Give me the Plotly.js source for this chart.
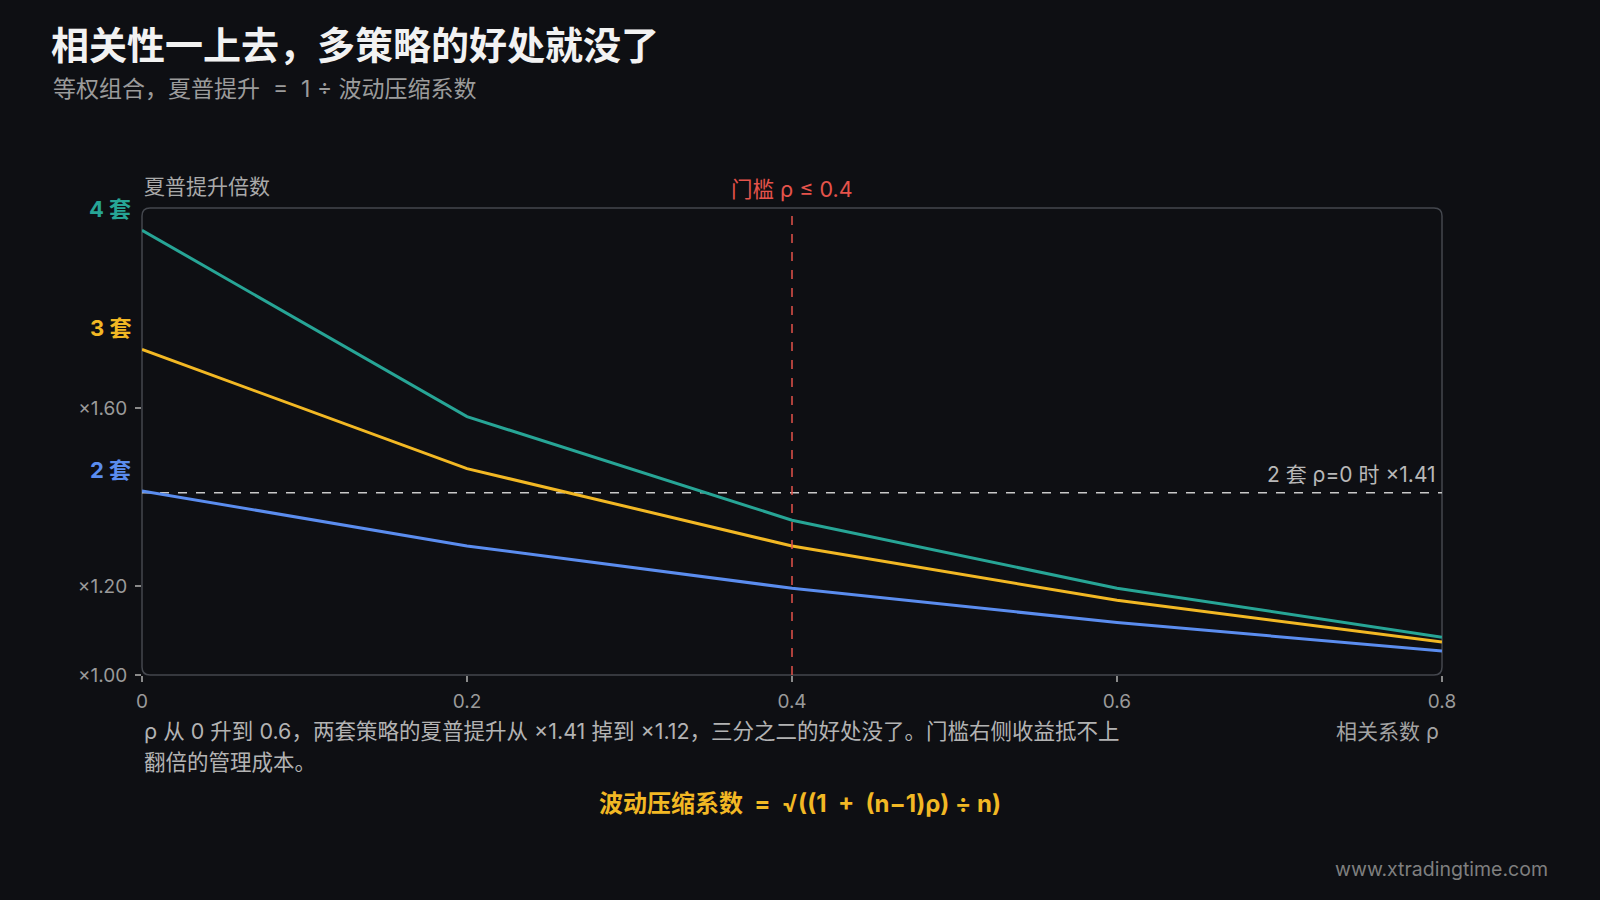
<!DOCTYPE html>
<html>
<head>
<meta charset="utf-8">
<script src="https://cdn.plot.ly/plotly-3.0.1.min.js"></script>
<style>
  html, body { margin: 0; padding: 0; background: #0e0f13; }
  #myDiv { width: 1600px; height: 900px; }
</style>
</head>
<body>
<div id="myDiv"></div>
<script>
// correlation values on the x axis
var rho = [0, 0.2, 0.4, 0.6, 0.8];
// sharpe multiplier for 2, 3 and 4 strategies
var sharpe2 = [1.414, 1.29, 1.195, 1.118, 1.054];
var sharpe3 = [1.732, 1.464, 1.29, 1.168, 1.074];
var sharpe4 = [2.0, 1.581, 1.348, 1.195, 1.085];
var seriesNames = ['2 套', '3 套', '4 套'];
var xTicks = [0, 0.2, 0.4, 0.6, 0.8];
var xTickText = ['0', '0.2', '0.4', '0.6', '0.8'];
var yTicks = [1.0, 1.2, 1.6];
var yTickText = ['×1.00', '×1.20', '×1.60'];
var threshold = 0.4;
var refValue = 1.41;

var FONT = 'Inter, "Noto Sans CJK SC", sans-serif';
var colors = { two: '#5b8def', three: '#f2b824', four: '#27a596', red: '#e5534b' };

// plot area in pixels
var L = 142, R = 1442, T = 208, B = 675;
function px(x) { return (x - L) / (R - L); }
function py(y) { return (B - y) / (B - T); }

var trace2 = { x: rho, y: sharpe2, type: 'scatter', mode: 'lines', name: seriesNames[0],
  line: { color: colors.two, width: 3 } };
var trace3 = { x: rho, y: sharpe3, type: 'scatter', mode: 'lines', name: seriesNames[1],
  line: { color: colors.three, width: 3 } };
var trace4 = { x: rho, y: sharpe4, type: 'scatter', mode: 'lines', name: seriesNames[2],
  line: { color: colors.four, width: 3 } };

// rounded frame round the plot area
var rx = 8 / (R - L), ry = 8 / (B - T);
var framePath = 'M ' + rx + ',1 L ' + (1 - rx) + ',1 Q 1,1 1,' + (1 - ry) +
  ' L 1,' + ry + ' Q 1,0 ' + (1 - rx) + ',0 L ' + rx + ',0 Q 0,0 0,' + ry +
  ' L 0,' + (1 - ry) + ' Q 0,1 ' + rx + ',1 Z';

function note(text, x, y, anchor, size, color, extra) {
  var a = { text: text, xref: 'paper', yref: 'paper', x: x, y: y, xanchor: anchor, yanchor: 'middle',
    showarrow: false, font: { family: FONT, size: size, color: color } };
  for (var k in extra) a[k] = extra[k];
  return a;
}

var annotations = [
  note('等权组合，夏普提升  =  1 ÷ 波动压缩系数', px(51), py(89), 'left', 23, '#9b9b9b'),
  note('夏普提升倍数', px(142), py(186), 'left', 21, '#a9a9a9'),
  note('<b>' + seriesNames[2] + '</b>', px(133), sharpe4[0], 'right', 22, colors.four, { yref: 'y', yshift: 21 }),
  note('<b>' + seriesNames[1] + '</b>', px(133), sharpe3[0], 'right', 22, colors.three, { yref: 'y', yshift: 21 }),
  note('<b>' + seriesNames[0] + '</b>', px(133), sharpe2[0], 'right', 22, colors.two, { yref: 'y', yshift: 21 }),
  note('门槛 ρ ≤ 0.4', threshold, py(189), 'center', 21.5, colors.red, { xref: 'x' }),
  note('2 套 ρ=0 时 ×1.41', 0.8, refValue, 'right', 21, '#b8b8b8', { xref: 'x', yref: 'y', yshift: 18, xshift: -4 }),
  note('ρ 从 0 升到 0.6，两套策略的夏普提升从 ×1.41 掉到 ×1.12，三分之二的好处没了。门槛右侧收益抵不上',
    px(142), py(731), 'left', 21.5, '#b3b3b3'),
  note('翻倍的管理成本。', px(142), py(762), 'left', 21.5, '#b3b3b3'),
  note('相关系数 ρ', px(1441), py(731), 'right', 21, '#a3a3a3'),
  note('<b>波动压缩系数  =  √((1  +  (n−1)ρ) ÷ n)</b>', px(800), py(803), 'center', 24, colors.three),
  note('www.xtradingtime.com', px(1550), py(869), 'right', 19.5, '#7f7f7f')
];

var layout = {
  width: 1600, height: 900,
  paper_bgcolor: '#0e0f13', plot_bgcolor: 'rgba(0,0,0,0)',
  margin: { l: L, r: 1600 - R, t: T, b: 900 - B },
  showlegend: false,
  font: { family: FONT, color: '#9a9a9a' },
  title: {
    text: '<b>相关性一上去，多策略的好处就没了</b>',
    font: { family: FONT, size: 38, color: '#f2f2f2' },
    xref: 'container', yref: 'container', x: 51 / 1600, y: 1 - 46 / 900,
    xanchor: 'left', yanchor: 'middle'
  },
  xaxis: {
    range: [0, 0.8], tickvals: xTicks, ticktext: xTickText,
    showgrid: false, zeroline: false, showline: false,
    ticks: 'outside', ticklen: 6, tickcolor: '#8a8a8a', tickwidth: 1.5,
    tickfont: { family: FONT, size: 19, color: '#9a9a9a' }, ticklabelstandoff: 3
  },
  yaxis: {
    range: [1.0, 2.05], tickvals: yTicks, ticktext: yTickText,
    showgrid: false, zeroline: false, showline: false,
    ticks: 'outside', ticklen: 6, tickcolor: '#8a8a8a', tickwidth: 1.5,
    tickfont: { family: FONT, size: 19, color: '#9a9a9a' }, ticklabelstandoff: 4
  },
  shapes: [
    { type: 'path', xref: 'paper', yref: 'paper', path: framePath,
      line: { color: '#44474e', width: 1.5 }, layer: 'below' },
    { type: 'line', xref: 'x', yref: 'y', x0: 0, x1: 0.8, y0: refValue, y1: refValue,
      line: { color: '#c9c9c9', width: 1.5, dash: 'dash' }, layer: 'below' },
    { type: 'line', xref: 'x', yref: 'paper', x0: threshold, x1: threshold, y0: 0, y1: 1,
      line: { color: colors.red, width: 1.5, dash: 'dash' }, layer: 'above' }
  ],
  annotations: annotations
};

Plotly.newPlot('myDiv', [trace2, trace3, trace4], layout, { displayModeBar: false, staticPlot: true });
</script>
</body>
</html>
